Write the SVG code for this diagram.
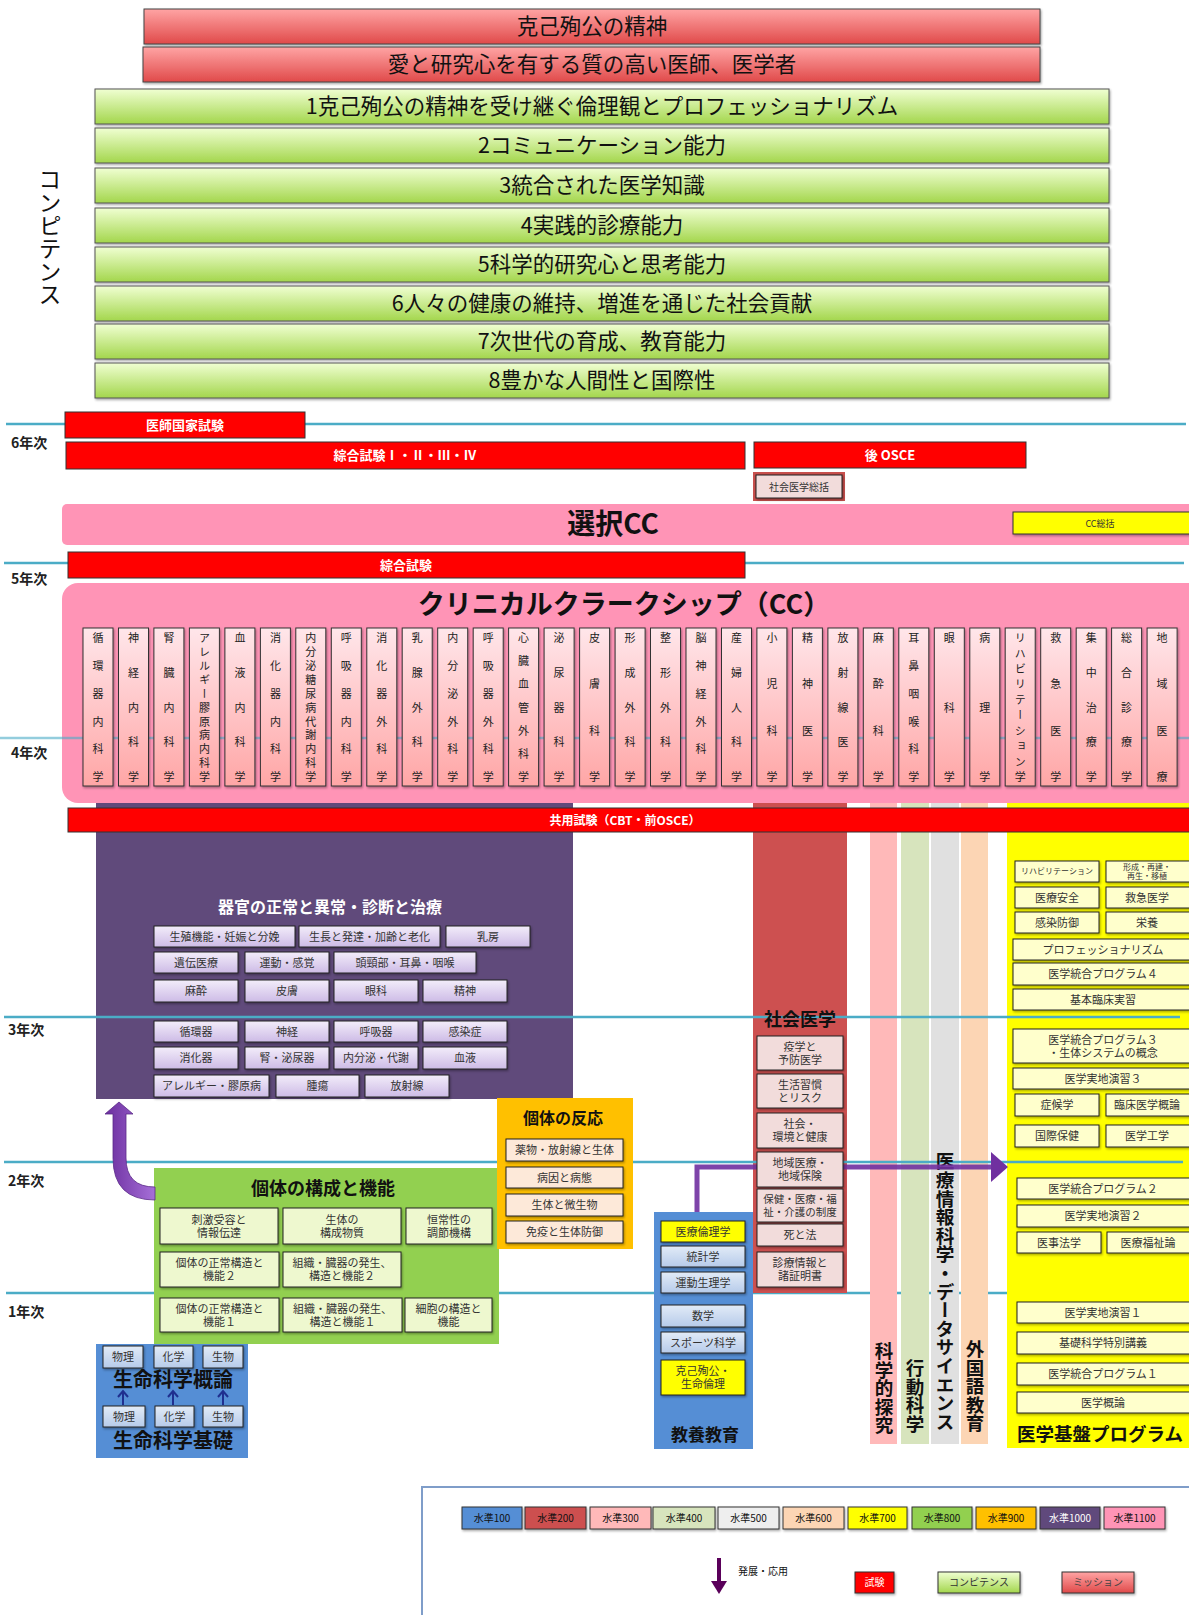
<svg xmlns="http://www.w3.org/2000/svg" width="1189" height="1615" viewBox="0 0 1189 1615">
<defs>
<linearGradient id="gRed" x1="0" y1="0" x2="0" y2="1"><stop offset="0" stop-color="#FFA4A4"/><stop offset="1" stop-color="#E04A4A"/></linearGradient>
<linearGradient id="gGreen" x1="0" y1="0" x2="0" y2="1"><stop offset="0" stop-color="#F0FFD2"/><stop offset="1" stop-color="#A3D64C"/></linearGradient>
<linearGradient id="gCol" x1="0" y1="0" x2="0" y2="1"><stop offset="0" stop-color="#FFE6EA"/><stop offset="1" stop-color="#FFA6A6"/></linearGradient>
<linearGradient id="gLav" x1="0" y1="0" x2="0" y2="1"><stop offset="0" stop-color="#F3EDFA"/><stop offset="1" stop-color="#CDBBE6"/></linearGradient>
<linearGradient id="gLB" x1="0" y1="0" x2="0" y2="1"><stop offset="0" stop-color="#E2EBF7"/><stop offset="1" stop-color="#B6CBEA"/></linearGradient>
<linearGradient id="gArrow" x1="0" y1="0" x2="1" y2="0"><stop offset="0" stop-color="#6B2E9E"/><stop offset="1" stop-color="#A66FD8"/></linearGradient>
<filter id="sh" x="-10%" y="-10%" width="130%" height="160%"><feDropShadow dx="1" dy="1.5" stdDeviation="1" flood-color="#000" flood-opacity="0.35"/></filter>
<style>
text{font-family:"Noto Sans CJK JP","Noto Sans",sans-serif;}
.mis{font-size:21.5px;fill:#111;text-anchor:middle;}
.cmp{font-size:21.5px;fill:#111;text-anchor:middle;}
.yr{font-size:14px;font-weight:bold;fill:#222;}
.yl{stroke:#4BACC6;stroke-width:2.5;fill:none;}
.ex{fill:#FF0000;stroke:#333;stroke-width:1;}
.ext{fill:#fff;font-weight:bold;font-size:13px;text-anchor:middle;}
.col{fill:url(#gCol);stroke:#333;stroke-width:1;filter:url(#sh);}
.ct{writing-mode:vertical-rl;text-anchor:middle;font-size:11px;fill:#222;}
.pb{fill:url(#gLav);stroke:#222;stroke-width:1;filter:url(#sh);}
.gb{fill:#EEF8CF;stroke:#222;stroke-width:1;filter:url(#sh);}
.ob{fill:#FDE9D9;stroke:#222;stroke-width:1;filter:url(#sh);}
.rb{fill:#F2DCDB;stroke:#222;stroke-width:1;filter:url(#sh);}
.bb{fill:url(#gLB);stroke:#222;stroke-width:1;filter:url(#sh);}
.yb{fill:#FFFF00;stroke:#222;stroke-width:1;filter:url(#sh);}
.lyb{fill:#FFFFCC;stroke:#222;stroke-width:1;filter:url(#sh);}
.t{font-size:11px;fill:#333;text-anchor:middle;}
.t8{font-size:8px;fill:#333;text-anchor:middle;}
.ttl{font-weight:bold;fill:#111;text-anchor:middle;}
.vt{writing-mode:vertical-rl;font-weight:bold;fill:#111;}
.lg{stroke:#333;stroke-width:1;filter:url(#sh);}
.lgt{font-size:10px;fill:#111;text-anchor:middle;}
.ba{fill:none;stroke:#1F2F8F;stroke-width:2;}
</style>
</defs>
<rect width="1189" height="1615" fill="#fff"/>

<!-- Mission -->
<g id="mission-1"><rect x="144" y="9" width="896" height="35" fill="url(#gRed)" stroke="#444" filter="url(#sh)"/><text x="592" y="34" class="mis">克己殉公の精神</text></g>
<g id="mission-2"><rect x="143" y="47" width="897" height="35" fill="url(#gRed)" stroke="#444" filter="url(#sh)"/><text x="592" y="72" class="mis">愛と研究心を有する質の高い医師、医学者</text></g>

<!-- Competences -->
<g id="competence-label"><text x="50" y="168" class="vt" style="font-size:23px;font-weight:normal">コンピテンス</text></g>
<g id="comp-1"><rect x="95" y="89" width="1014" height="35" fill="url(#gGreen)" stroke="#555" filter="url(#sh)"/><text x="602" y="114" class="cmp">1克己殉公の精神を受け継ぐ倫理観とプロフェッショナリズム</text></g>
<g id="comp-2"><rect x="95" y="128" width="1014" height="35" fill="url(#gGreen)" stroke="#555" filter="url(#sh)"/><text x="602" y="153" class="cmp">2コミュニケーション能力</text></g>
<g id="comp-3"><rect x="95" y="168" width="1014" height="35" fill="url(#gGreen)" stroke="#555" filter="url(#sh)"/><text x="602" y="193" class="cmp">3統合された医学知識</text></g>
<g id="comp-4"><rect x="95" y="208" width="1014" height="35" fill="url(#gGreen)" stroke="#555" filter="url(#sh)"/><text x="602" y="233" class="cmp">4実践的診療能力</text></g>
<g id="comp-5"><rect x="95" y="247" width="1014" height="35" fill="url(#gGreen)" stroke="#555" filter="url(#sh)"/><text x="602" y="272" class="cmp">5科学的研究心と思考能力</text></g>
<g id="comp-6"><rect x="95" y="286" width="1014" height="35" fill="url(#gGreen)" stroke="#555" filter="url(#sh)"/><text x="602" y="311" class="cmp">6人々の健康の維持、増進を通じた社会貢献</text></g>
<g id="comp-7"><rect x="95" y="324" width="1014" height="35" fill="url(#gGreen)" stroke="#555" filter="url(#sh)"/><text x="602" y="349" class="cmp">7次世代の育成、教育能力</text></g>
<g id="comp-8"><rect x="95" y="363" width="1014" height="35" fill="url(#gGreen)" stroke="#555" filter="url(#sh)"/><text x="602" y="388" class="cmp">8豊かな人間性と国際性</text></g>

<!-- Year labels -->
<g id="year-labels">
<text x="11" y="448" class="yr">6年次</text>
<text x="11" y="584" class="yr">5年次</text>
<text x="11" y="758" class="yr">4年次</text>
<text x="8" y="1035" class="yr">3年次</text>
<text x="8" y="1186" class="yr">2年次</text>
<text x="8" y="1317" class="yr">1年次</text>
</g>

<!-- 1年 line (behind boxes) -->
<line x1="6" y1="1293" x2="1186" y2="1293" class="yl"/>

<!-- 6th / 5th year -->
<line x1="6" y1="424" x2="1186" y2="424" class="yl"/>
<line x1="4" y1="563" x2="1184" y2="563" class="yl"/>
<g id="selective-cc"><rect x="62" y="504" width="1140" height="41" rx="5" fill="#FF94B6"/><text x="613" y="534" class="ttl" style="font-size:28px">選択CC</text></g>
<g id="cc-summary"><rect x="1013" y="512" width="190" height="22" fill="#FFFF00" stroke="#333" filter="url(#sh)"/><text x="1100" y="527" class="t" style="font-size:9px">CC総括</text></g>
<g id="exam-national"><rect x="65" y="412" width="240" height="26" class="ex"/><text x="185" y="430" class="ext">医師国家試験</text></g>
<g id="exam-sogo6"><rect x="66" y="442" width="679" height="27" class="ex"/><text x="405" y="460" class="ext">綜合試験Ⅰ・Ⅱ・Ⅲ・Ⅳ</text></g>
<g id="exam-osce"><rect x="754" y="442" width="272" height="26" class="ex"/><text x="890" y="460" class="ext">後 OSCE</text></g>
<g id="social-summary"><rect x="753" y="472" width="92" height="29" fill="#C8504D"/><rect x="756" y="475" width="86" height="23" class="rb"/><text x="799" y="491" class="t" style="font-size:10px">社会医学総括</text></g>
<g id="exam-sogo5"><rect x="68" y="552" width="677" height="26" class="ex"/><text x="406" y="570" class="ext">綜合試験</text></g>

<!-- Level columns (background) -->
<g id="columns-bg">
<rect id="organ-bg" x="96" y="796" width="477" height="303" fill="#604A7B"/>
<rect id="social-bg" x="753" y="796" width="94" height="497" fill="#CD5050"/>
<rect id="sci-bg" x="870" y="796" width="27" height="648" fill="#FFB9B9"/>
<rect id="beh-bg" x="901" y="796" width="28" height="648" fill="#D7E4BD"/>
<rect id="info-bg" x="931" y="796" width="28" height="648" fill="#E0E0E0"/>
<rect id="lang-bg" x="961" y="796" width="27" height="648" fill="#FCD5B4"/>
<rect id="base-bg" x="1007" y="796" width="190" height="652" fill="#FFFF00"/>
</g>

<!-- CC box -->
<g id="cc-box"><rect x="62" y="583" width="1150" height="220" rx="16" fill="#FF94B6"/><text x="624" y="614" class="ttl" style="font-size:27px">クリニカルクラークシップ（CC）</text></g>
<line x1="0" y1="738" x2="1189" y2="738" class="yl" opacity="0.6"/>

<g id="cc-departments">
<g id="d0"><rect x="83" y="628" width="30" height="158" class="col"/><text x="98" y="638 665.8 693.6 721.4 749.2 777" class="ct">循環器内科学</text></g>
<g id="d1"><rect x="118.5" y="628" width="30" height="158" class="col"/><text x="133.5" y="638 672.8 707.5 742.3 777" class="ct">神経内科学</text></g>
<g id="d2"><rect x="153.9" y="628" width="30" height="158" class="col"/><text x="168.9" y="638 672.8 707.5 742.3 777" class="ct">腎臓内科学</text></g>
<g id="d3"><rect x="189.4" y="628" width="30" height="158" class="col"/><text x="204.4" y="638 651.9 665.8 679.7 693.6 707.5 721.4 735.3 749.2 763.1 777" class="ct">アレルギー膠原病内科学</text></g>
<g id="d4"><rect x="224.9" y="628" width="30" height="158" class="col"/><text x="239.9" y="638 672.8 707.5 742.3 777" class="ct">血液内科学</text></g>
<g id="d5"><rect x="260.4" y="628" width="30" height="158" class="col"/><text x="275.4" y="638 665.8 693.6 721.4 749.2 777" class="ct">消化器内科学</text></g>
<g id="d6"><rect x="295.8" y="628" width="30" height="158" class="col"/><text x="310.8" y="638 651.9 665.8 679.7 693.6 707.5 721.4 735.3 749.2 763.1 777" class="ct">内分泌糖尿病代謝内科学</text></g>
<g id="d7"><rect x="331.3" y="628" width="30" height="158" class="col"/><text x="346.3" y="638 665.8 693.6 721.4 749.2 777" class="ct">呼吸器内科学</text></g>
<g id="d8"><rect x="366.8" y="628" width="30" height="158" class="col"/><text x="381.8" y="638 665.8 693.6 721.4 749.2 777" class="ct">消化器外科学</text></g>
<g id="d9"><rect x="402.2" y="628" width="30" height="158" class="col"/><text x="417.2" y="638 672.8 707.5 742.3 777" class="ct">乳腺外科学</text></g>
<g id="d10"><rect x="437.7" y="628" width="30" height="158" class="col"/><text x="452.7" y="638 665.8 693.6 721.4 749.2 777" class="ct">内分泌外科学</text></g>
<g id="d11"><rect x="473.2" y="628" width="30" height="158" class="col"/><text x="488.2" y="638 665.8 693.6 721.4 749.2 777" class="ct">呼吸器外科学</text></g>
<g id="d12"><rect x="508.6" y="628" width="30" height="158" class="col"/><text x="523.6" y="638 661.2 684.3 707.5 730.7 753.8 777" class="ct">心臓血管外科学</text></g>
<g id="d13"><rect x="544.1" y="628" width="30" height="158" class="col"/><text x="559.1" y="638 672.8 707.5 742.3 777" class="ct">泌尿器科学</text></g>
<g id="d14"><rect x="579.6" y="628" width="30" height="158" class="col"/><text x="594.6" y="638 684.3 730.7 777" class="ct">皮膚科学</text></g>
<g id="d15"><rect x="615.1" y="628" width="30" height="158" class="col"/><text x="630.1" y="638 672.8 707.5 742.3 777" class="ct">形成外科学</text></g>
<g id="d16"><rect x="650.5" y="628" width="30" height="158" class="col"/><text x="665.5" y="638 672.8 707.5 742.3 777" class="ct">整形外科学</text></g>
<g id="d17"><rect x="686" y="628" width="30" height="158" class="col"/><text x="701" y="638 665.8 693.6 721.4 749.2 777" class="ct">脳神経外科学</text></g>
<g id="d18"><rect x="721.5" y="628" width="30" height="158" class="col"/><text x="736.5" y="638 672.8 707.5 742.3 777" class="ct">産婦人科学</text></g>
<g id="d19"><rect x="756.9" y="628" width="30" height="158" class="col"/><text x="771.9" y="638 684.3 730.7 777" class="ct">小児科学</text></g>
<g id="d20"><rect x="792.4" y="628" width="30" height="158" class="col"/><text x="807.4" y="638 684.3 730.7 777" class="ct">精神医学</text></g>
<g id="d21"><rect x="827.9" y="628" width="30" height="158" class="col"/><text x="842.9" y="638 672.8 707.5 742.3 777" class="ct">放射線医学</text></g>
<g id="d22"><rect x="863.3" y="628" width="30" height="158" class="col"/><text x="878.3" y="638 684.3 730.7 777" class="ct">麻酔科学</text></g>
<g id="d23"><rect x="898.8" y="628" width="30" height="158" class="col"/><text x="913.8" y="638 665.8 693.6 721.4 749.2 777" class="ct">耳鼻咽喉科学</text></g>
<g id="d24"><rect x="934.3" y="628" width="30" height="158" class="col"/><text x="949.3" y="638 707.5 777" class="ct">眼科学</text></g>
<g id="d25"><rect x="969.8" y="628" width="30" height="158" class="col"/><text x="984.8" y="638 707.5 777" class="ct">病理学</text></g>
<g id="d26"><rect x="1005.2" y="628" width="30" height="158" class="col"/><text x="1020.2" y="638 653.4 668.9 684.3 699.8 715.2 730.7 746.1 761.6 777" class="ct">リハビリテーション学</text></g>
<g id="d27"><rect x="1040.7" y="628" width="30" height="158" class="col"/><text x="1055.7" y="638 684.3 730.7 777" class="ct">救急医学</text></g>
<g id="d28"><rect x="1076.2" y="628" width="30" height="158" class="col"/><text x="1091.2" y="638 672.8 707.5 742.3 777" class="ct">集中治療学</text></g>
<g id="d29"><rect x="1111.6" y="628" width="30" height="158" class="col"/><text x="1126.6" y="638 672.8 707.5 742.3 777" class="ct">総合診療学</text></g>
<g id="d30"><rect x="1147.1" y="628" width="30" height="158" class="col"/><text x="1162.1" y="638 684.3 730.7 777" class="ct">地域医療</text></g>
</g>

<g id="exam-common"><rect x="68" y="808" width="1125" height="24" class="ex"/><text x="625" y="825" class="ext" style="font-size:12px">共用試験（CBT・前OSCE）</text></g>

<!-- 3rd / 2nd year lines (over columns) -->
<line x1="4" y1="1017" x2="1180" y2="1017" class="yl"/>
<line x1="4" y1="1162" x2="1183" y2="1162" class="yl"/>

<!-- Vertical column titles -->
<g id="sci"><text x="884" y="1342" class="vt" style="font-size:18.5px">科学的探究</text></g>
<g id="behav"><text x="915" y="1359" class="vt" style="font-size:18.5px">行動科学</text></g>
<g id="info"><text x="945" y="1152" class="vt" style="font-size:18.6px">医療情報科学・データサイエンス</text></g>
<g id="lang"><text x="975" y="1340" class="vt" style="font-size:18.5px">外国語教育</text></g>

<!-- Organ box -->
<g id="organ">
<text x="330" y="913" class="ttl" style="font-size:16px;fill:#fff">器官の正常と異常・診断と治療</text>
<rect x="154" y="926" width="141" height="21" class="pb"/><text x="224.5" y="941" class="t">生殖機能・妊娠と分娩</text>
<rect x="299" y="926" width="141" height="21" class="pb"/><text x="369.5" y="941" class="t">生長と発達・加齢と老化</text>
<rect x="446" y="926" width="84" height="21" class="pb"/><text x="488" y="941" class="t">乳房</text>
<rect x="154" y="952" width="84" height="21" class="pb"/><text x="196" y="967" class="t">遺伝医療</text>
<rect x="245" y="952" width="84" height="21" class="pb"/><text x="287" y="967" class="t">運動・感覚</text>
<rect x="334" y="952" width="142" height="21" class="pb"/><text x="405" y="967" class="t">頭頸部・耳鼻・咽喉</text>
<rect x="154" y="980" width="84" height="22" class="pb"/><text x="196" y="995" class="t">麻酔</text>
<rect x="245" y="980" width="84" height="22" class="pb"/><text x="287" y="995" class="t">皮膚</text>
<rect x="334" y="980" width="84" height="22" class="pb"/><text x="376" y="995" class="t">眼科</text>
<rect x="423" y="980" width="84" height="22" class="pb"/><text x="465" y="995" class="t">精神</text>
<rect x="154" y="1021" width="84" height="21" class="pb"/><text x="196" y="1036" class="t">循環器</text>
<rect x="245" y="1021" width="84" height="21" class="pb"/><text x="287" y="1036" class="t">神経</text>
<rect x="334" y="1021" width="84" height="21" class="pb"/><text x="376" y="1036" class="t">呼吸器</text>
<rect x="423" y="1021" width="84" height="21" class="pb"/><text x="465" y="1036" class="t">感染症</text>
<rect x="154" y="1047" width="84" height="22" class="pb"/><text x="196" y="1062" class="t">消化器</text>
<rect x="245" y="1047" width="84" height="22" class="pb"/><text x="287" y="1062" class="t">腎・泌尿器</text>
<rect x="334" y="1047" width="84" height="22" class="pb"/><text x="376" y="1062" class="t">内分泌・代謝</text>
<rect x="423" y="1047" width="84" height="22" class="pb"/><text x="465" y="1062" class="t">血液</text>
<rect x="154" y="1075" width="115" height="22" class="pb"/><text x="211.5" y="1090" class="t">アレルギー・膠原病</text>
<rect x="276" y="1075" width="83" height="22" class="pb"/><text x="317.5" y="1090" class="t">腫瘍</text>
<rect x="365" y="1075" width="84" height="22" class="pb"/><text x="407" y="1090" class="t">放射線</text>
</g>

<!-- Green box -->
<g id="individual">
<rect x="154" y="1168" width="345" height="176" fill="#92D050"/>
<text x="323" y="1195" class="ttl" style="font-size:18px">個体の構成と機能</text>
<rect x="160" y="1208" width="118" height="36" class="gb"/><text x="219" y="1223.5" class="t">刺激受容と</text><text x="219" y="1236.5" class="t">情報伝達</text>
<rect x="283" y="1208" width="118" height="36" class="gb"/><text x="342" y="1223.5" class="t">生体の</text><text x="342" y="1236.5" class="t">構成物質</text>
<rect x="406" y="1208" width="86" height="36" class="gb"/><text x="449" y="1223.5" class="t">恒常性の</text><text x="449" y="1236.5" class="t">調節機構</text>
<rect x="160" y="1252" width="119" height="35" class="gb"/><text x="219.5" y="1267" class="t">個体の正常構造と</text><text x="219.5" y="1280" class="t">機能２</text>
<rect x="283" y="1252" width="118" height="35" class="gb"/><text x="342" y="1267" class="t">組織・臓器の発生、</text><text x="342" y="1280" class="t">構造と機能２</text>
<rect x="160" y="1298" width="119" height="34" class="gb"/><text x="219.5" y="1312.5" class="t">個体の正常構造と</text><text x="219.5" y="1325.5" class="t">機能１</text>
<rect x="283" y="1298" width="119" height="34" class="gb"/><text x="342.5" y="1312.5" class="t">組織・臓器の発生、</text><text x="342.5" y="1325.5" class="t">構造と機能１</text>
<rect x="405" y="1298" width="87" height="34" class="gb"/><text x="448.5" y="1312.5" class="t">細胞の構造と</text><text x="448.5" y="1325.5" class="t">機能</text>
</g>

<!-- Orange box -->
<g id="reaction">
<rect x="497" y="1098" width="136" height="151" fill="#FFC000"/>
<text x="563" y="1124" class="ttl" style="font-size:16px">個体の反応</text>
<rect x="506" y="1139" width="117" height="22" class="ob"/><text x="564.5" y="1154" class="t">薬物・放射線と生体</text>
<rect x="506" y="1167" width="117" height="21" class="ob"/><text x="564.5" y="1182" class="t">病因と病態</text>
<rect x="506" y="1194" width="117" height="22" class="ob"/><text x="564.5" y="1209" class="t">生体と微生物</text>
<rect x="506" y="1221" width="117" height="22" class="ob"/><text x="564.5" y="1236" class="t">免疫と生体防御</text>
</g>

<!-- Life science -->
<g id="lifesci">
<rect x="96" y="1344" width="152" height="114" fill="#558ED5"/>
<rect x="103" y="1346" width="40" height="22" class="bb"/><text x="123" y="1361" class="t">物理</text>
<rect x="154" y="1346" width="39" height="22" class="bb"/><text x="173.5" y="1361" class="t">化学</text>
<rect x="203" y="1346" width="40" height="22" class="bb"/><text x="223" y="1361" class="t">生物</text>
<text x="173" y="1387" class="ttl" style="font-size:20px">生命科学概論</text>
<rect x="103" y="1406" width="42" height="21" class="bb"/><text x="124" y="1421" class="t">物理</text>
<rect x="155" y="1406" width="39" height="21" class="bb"/><text x="174.5" y="1421" class="t">化学</text>
<rect x="203" y="1406" width="40" height="21" class="bb"/><text x="223" y="1421" class="t">生物</text>
<text x="173" y="1448" class="ttl" style="font-size:20px">生命科学基礎</text>
</g>

<!-- Liberal arts -->
<g id="liberal">
<rect x="654" y="1212" width="99" height="237" fill="#558ED5"/>
<text x="705" y="1441" class="ttl" style="font-size:17px">教養教育</text>
</g>

<!-- Connectors -->
<g id="connectors">
<path d="M119 1102 L133 1114 L126 1114 L126 1158 Q126 1187 155 1187 L155 1200 Q113 1200 113 1158 L113 1114 L105 1114 Z" fill="url(#gArrow)" stroke="#5A2A88" stroke-width="0.8"/>
<path d="M697 1212 V1167 H993" fill="none" stroke="#7030A0" stroke-width="5" opacity="0.9"/>
<polygon points="991,1152 1008,1167 991,1182" fill="#7030A0"/>
<path d="M123 1405 V1392 M118 1397 L123 1391 L128 1397" class="ba"/>
<path d="M173 1405 V1392 M168 1397 L173 1391 L178 1397" class="ba"/>
<path d="M223 1405 V1392 M218 1397 L223 1391 L228 1397" class="ba"/>
</g>

<!-- Liberal arts items -->
<g id="liberal-items">
<rect x="661" y="1221" width="84" height="21" class="yb"/><text x="703" y="1236" class="t">医療倫理学</text>
<rect x="661" y="1246" width="84" height="21" class="bb"/><text x="703" y="1261" class="t">統計学</text>
<rect x="661" y="1272" width="84" height="21" class="bb"/><text x="703" y="1287" class="t">運動生理学</text>
<rect x="661" y="1305" width="84" height="22" class="bb"/><text x="703" y="1320" class="t">数学</text>
<rect x="661" y="1332" width="84" height="21" class="bb"/><text x="703" y="1347" class="t">スポーツ科学</text>
<rect x="661" y="1360" width="84" height="35" class="yb"/><text x="703" y="1375" class="t">克己殉公・</text><text x="703" y="1388" class="t">生命倫理</text>
</g>

<!-- Social medicine -->
<g id="social">
<text x="800" y="1026" class="ttl" style="font-size:18px">社会医学</text>
<rect x="757" y="1036" width="86" height="34" class="rb"/><text x="800" y="1050.5" class="t">疫学と</text><text x="800" y="1063.5" class="t">予防医学</text>
<rect x="757" y="1074" width="86" height="34" class="rb"/><text x="800" y="1088.5" class="t">生活習慣</text><text x="800" y="1101.5" class="t">とリスク</text>
<rect x="757" y="1113" width="86" height="35" class="rb"/><text x="800" y="1128" class="t">社会・</text><text x="800" y="1141" class="t">環境と健康</text>
<rect x="757" y="1152" width="86" height="35" class="rb"/><text x="800" y="1167" class="t">地域医療・</text><text x="800" y="1180" class="t">地域保険</text>
<rect x="757" y="1189" width="86" height="33" class="rb"/><text x="800" y="1203" class="t" style="font-size:10.5px">保健・医療・福</text><text x="800" y="1216" class="t" style="font-size:10.5px">祉・介護の制度</text>
<rect x="757" y="1224" width="86" height="22" class="rb"/><text x="800" y="1239" class="t">死と法</text>
<rect x="757" y="1252" width="86" height="35" class="rb"/><text x="800" y="1267" class="t">診療情報と</text><text x="800" y="1280" class="t">諸証明書</text>
</g>

<!-- Medical base program -->
<g id="base">
<text x="1017" y="1441" class="ttl" style="font-size:18.5px;text-anchor:start">医学基盤プログラム</text>
<rect x="1015" y="861" width="84" height="21" class="lyb"/><text x="1057" y="874" class="t8">リハビリテーション</text>
<rect x="1106" y="861" width="90" height="21" class="lyb"/><text x="1147" y="869.5" class="t8">形成・再建・</text><text x="1147" y="878.5" class="t8">再生・移植</text>
<rect x="1015" y="887" width="84" height="21" class="lyb"/><text x="1057" y="902" class="t">医療安全</text>
<rect x="1106" y="887" width="90" height="21" class="lyb"/><text x="1147" y="902" class="t">救急医学</text>
<rect x="1015" y="912" width="84" height="21" class="lyb"/><text x="1057" y="927" class="t">感染防御</text>
<rect x="1106" y="912" width="90" height="21" class="lyb"/><text x="1147" y="927" class="t">栄養</text>
<rect x="1013" y="939" width="185" height="21" class="lyb"/><text x="1103" y="954" class="t">プロフェッショナリズム</text>
<rect x="1013" y="963" width="185" height="22" class="lyb"/><text x="1103" y="978" class="t">医学統合プログラム４</text>
<rect x="1013" y="989" width="185" height="21" class="lyb"/><text x="1103" y="1004" class="t">基本臨床実習</text>
<rect x="1013" y="1029" width="185" height="34" class="lyb"/><text x="1103" y="1043.5" class="t">医学統合プログラム３</text><text x="1103" y="1056.5" class="t">・生体システムの概念</text>
<rect x="1013" y="1068" width="185" height="21" class="lyb"/><text x="1103" y="1083" class="t">医学実地演習３</text>
<rect x="1015" y="1094" width="84" height="22" class="lyb"/><text x="1057" y="1109" class="t">症候学</text>
<rect x="1106" y="1094" width="90" height="22" class="lyb"/><text x="1147" y="1109" class="t">臨床医学概論</text>
<rect x="1015" y="1125" width="84" height="22" class="lyb"/><text x="1057" y="1140" class="t">国際保健</text>
<rect x="1106" y="1125" width="90" height="22" class="lyb"/><text x="1147" y="1140" class="t">医学工学</text>
<rect x="1017" y="1178" width="180" height="21" class="lyb"/><text x="1103" y="1193" class="t">医学統合プログラム２</text>
<rect x="1017" y="1205" width="180" height="22" class="lyb"/><text x="1103" y="1220" class="t">医学実地演習２</text>
<rect x="1017" y="1232" width="84" height="21" class="lyb"/><text x="1059" y="1247" class="t">医事法学</text>
<rect x="1107" y="1232" width="90" height="21" class="lyb"/><text x="1148" y="1247" class="t">医療福祉論</text>
<rect x="1017" y="1302" width="180" height="21" class="lyb"/><text x="1103" y="1317" class="t">医学実地演習１</text>
<rect x="1017" y="1332" width="180" height="22" class="lyb"/><text x="1103" y="1347" class="t">基礎科学特別講義</text>
<rect x="1017" y="1363" width="180" height="22" class="lyb"/><text x="1103" y="1378" class="t">医学統合プログラム１</text>
<rect x="1017" y="1392" width="180" height="21" class="lyb"/><text x="1103" y="1407" class="t">医学概論</text>
</g>

<!-- Legend -->
<g id="legend">
<rect x="422" y="1487" width="800" height="200" fill="#fff" stroke="#7F9DC9" stroke-width="2"/>
<rect x="462" y="1507" width="60" height="22" fill="#558ED5" class="lg"/><text x="492" y="1522" class="lgt">水準100</text>
<rect x="525" y="1507" width="61" height="22" fill="#CD5050" class="lg"/><text x="555.5" y="1522" class="lgt">水準200</text>
<rect x="590" y="1507" width="61" height="22" fill="#FFB9B9" class="lg"/><text x="620.5" y="1522" class="lgt">水準300</text>
<rect x="653" y="1507" width="62" height="22" fill="#D7E4BD" class="lg"/><text x="684" y="1522" class="lgt">水準400</text>
<rect x="718" y="1507" width="61" height="22" fill="#EEEEEE" class="lg"/><text x="748.5" y="1522" class="lgt">水準500</text>
<rect x="783" y="1507" width="61" height="22" fill="#FCD5B4" class="lg"/><text x="813.5" y="1522" class="lgt">水準600</text>
<rect x="848" y="1507" width="59" height="22" fill="#FFFF00" class="lg"/><text x="877.5" y="1522" class="lgt">水準700</text>
<rect x="912" y="1507" width="60" height="22" fill="#92D050" class="lg"/><text x="942" y="1522" class="lgt">水準800</text>
<rect x="976" y="1507" width="60" height="22" fill="#FFC000" class="lg"/><text x="1006" y="1522" class="lgt">水準900</text>
<rect x="1040" y="1507" width="60" height="22" fill="#604A7B" class="lg"/><text x="1070" y="1522" class="lgt" style="fill:#fff">水準1000</text>
<rect x="1104" y="1507" width="61" height="22" fill="#FF94B6" class="lg"/><text x="1134.5" y="1522" class="lgt">水準1100</text>
<line x1="719" y1="1558" x2="719" y2="1584" stroke="#5A005A" stroke-width="4"/>
<polygon points="711,1581 727,1581 719,1594" fill="#5A005A"/>
<text x="738" y="1575" class="lgt" style="text-anchor:start">発展・応用</text>
<rect x="855" y="1572" width="39" height="21" fill="#FF0000" class="lg"/><text x="874.5" y="1586" class="lgt" style="fill:#fff">試験</text>
<rect x="938" y="1572" width="82" height="21" fill="url(#gGreen)" class="lg"/><text x="979" y="1586" class="lgt" style="fill:#333">コンピテンス</text>
<rect x="1062" y="1572" width="72" height="21" fill="url(#gRed)" class="lg"/><text x="1098" y="1586" class="lgt" style="fill:#444">ミッション</text>
</g>
</svg>
